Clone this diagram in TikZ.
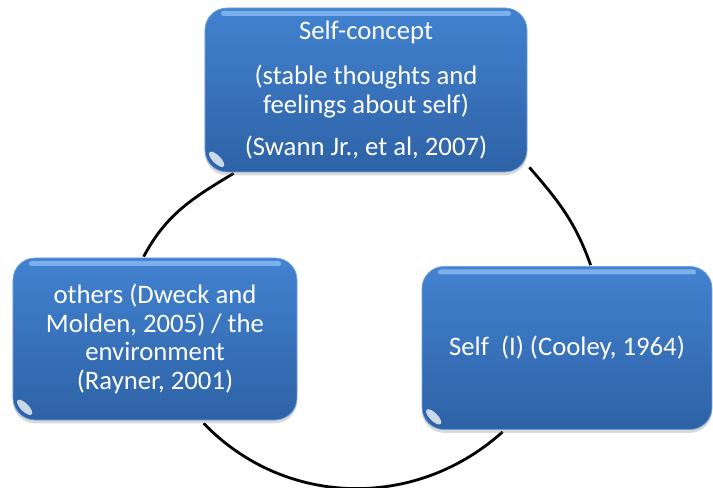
\documentclass[tikz,border=0pt]{standalone}
\usepackage{fontspec}
\setmainfont{Carlito}
\usetikzlibrary{shadows}
\definecolor{boxtop}{RGB}{66,130,208}
\definecolor{boxbottom}{RGB}{46,98,166}
\definecolor{gloss}{RGB}{135,185,240}
\pgfdeclarelayer{background}
\pgfsetlayers{background,main}
\tikzstyle{cyclebox} = [rectangle, rounded corners=0.66cm, top color=boxtop, bottom color=boxbottom, draw=boxtop!75!white, line width=0.6pt, text=white, align=center, inner sep=2pt, font=\fontsize{22.8}{24.3}\selectfont, drop shadow={shadow xshift=0pt, shadow yshift=-0.1cm, opacity=0.3},
  path picture={
    \fill[gloss, opacity=0.85, rounded corners=2pt] ([shift={(16,-3)}]path picture bounding box.north west) rectangle ([shift={(-16,-8)}]path picture bounding box.north east);
  }]
\tikzstyle{shine} = [white, opacity=0.75]
\tikzstyle{link} = [line width=2.4pt, black]

\begin{document}
\begin{tikzpicture}[x=0.03cm, y=0.03cm]
\useasboundingbox (0,0) rectangle (713,488);
%the three boxes
\node[cyclebox, minimum width=9.66cm, minimum height=4.92cm] (concept) at (366,398) {Self-concept\\[14pt](stable thoughts and\\feelings about self)\\[11.5pt](Swann Jr., et al, 2007)};
\node[cyclebox, minimum width=8.52cm, minimum height=4.86cm] (others) at (155,149) {others (Dweck and\\Molden, 2005) / the\\environment\\(Rayner, 2001)};
\node[cyclebox, minimum width=8.7cm, minimum height=4.89cm] (self) at (567,140) {Self\ \ (I) (Cooley, 1964)};
%shine in the lower left corners
\foreach \b in {concept,others,self}{
  \begin{scope}[shift={(\b.south west)}]
    \fill[shine, rotate around={-45:(12,13)}] (12,13) ellipse (10 and 4);
  \end{scope}
}
%the circle behind them
\begin{pgfonlayer}{background}
\draw [link] ([shift={(29,-1)}]concept.south west) to[out=211, in=62] ([shift={(131,1)}]others.north west);
\draw [link] ([shift={(2,5)}]concept.south east) to[out=-49, in=109.5] ([shift={(169,1)}]self.north west);
\draw [link] ([shift={(191,-3)}]others.south west) to[out=-46, in=-138] ([shift={(81,-2)}]self.south west);
\end{pgfonlayer}
\end{tikzpicture}
\end{document}
